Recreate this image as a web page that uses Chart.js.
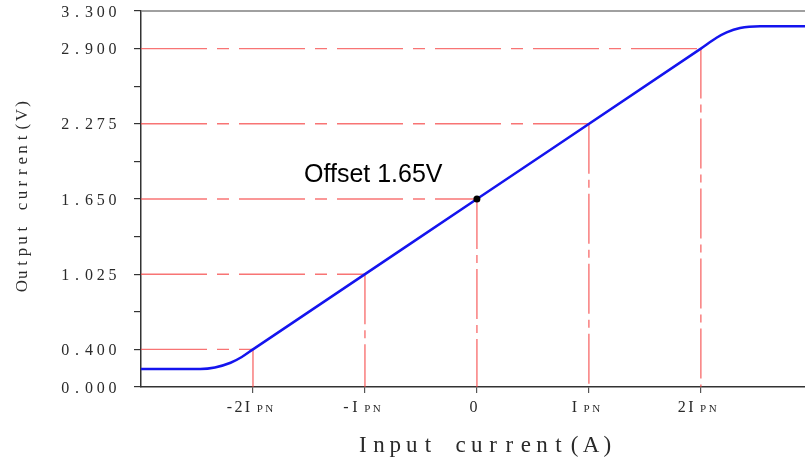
<!DOCTYPE html>
<html><head><meta charset="utf-8">
<script src="https://cdn.jsdelivr.net/npm/chart.js@4/dist/chart.umd.min.js"></script>
<style>html,body{margin:0;padding:0;background:#fff;overflow:hidden}#wrap{width:805px;height:457px;position:relative}</style>
</head><body><div id="wrap"><canvas id="c"></canvas></div>
<script>
// ---- data ----
const curveX = [-3, -2.47, -2.34, -2.2, -2.1, -2, 0, 2, 2.14, 2.23, 2.35, 2.53, 2.93];
const curveY = [0.2375, 0.2375, 0.25, 0.289, 0.337, 0.4, 1.65, 2.9, 2.99, 3.035, 3.071, 3.085, 3.085];
const guideX = [-2, -1, 0, 1, 2];
const guideY = [0.4, 1.025, 1.65, 2.275, 2.9];
const xTickValues = [-2, -1, 0, 1, 2];
const xTickMain = ['-2I', '-I', '0', 'I', '2I'];
const xTickSub = ['PN', 'PN', '', 'PN', 'PN'];
const yTickValues = [0.0875, 0.4, 0.7125, 1.025, 1.3375, 1.65, 1.9625, 2.275, 2.5875, 2.9, 3.2125];
const yTickLabels = ['0.000', '0.400', '', '1.025', '', '1.650', '', '2.275', '', '2.900', '3.300'];
const offsetPoint = [{x: 0, y: 1.65}];
const xMin = -3, xMax = 2.93, yMin = 0.0875, yMax = 3.2125;
const xTitle = 'Input current(A)';
const yTitle = 'Output current(V)';
const noteText = 'Offset 1.65V';

const GUIDE = 'rgba(245,70,70,0.75)';
const datasets = [];
datasets.push({data: offsetPoint, showLine: false, pointRadius: 3.5, pointBackgroundColor: '#000', pointBorderColor: '#000', pointBorderWidth: 0});
datasets.push({data: curveX.map((x, i) => ({x, y: curveY[i]})), borderColor: '#1414ee', borderWidth: 2.5, pointRadius: 0, cubicInterpolationMode: 'monotone', fill: false});
guideY.forEach((gy, i) => {
  datasets.push({data: [{x: xMin, y: gy}, {x: guideX[i], y: gy}], borderColor: GUIDE, borderWidth: 1.4, borderDash: [66, 10, 12, 10], pointRadius: 0, tension: 0});
  datasets.push({data: [{x: guideX[i], y: gy}, {x: guideX[i], y: yMin}], borderColor: GUIDE, borderWidth: 1.4, borderDash: [50, 6, 8, 6], pointRadius: 0, tension: 0});
});

function cells(ctx, text, firstCenter, baseline, pitch) {
  ctx.textAlign = 'center';
  for (let i = 0; i < text.length; i++) ctx.fillText(text[i], firstCenter + i * pitch, baseline);
}

const textPlugin = {
  id: 'texts',
  afterDraw(chart) {
    const ctx = chart.ctx, ca = chart.chartArea;
    const xs = chart.scales.x, ys = chart.scales.y;
    ctx.save();
    // top frame line
    ctx.strokeStyle = '#808080'; ctx.lineWidth = 1.5;
    ctx.beginPath(); ctx.moveTo(ca.left, ca.top); ctx.lineTo(chart.width, ca.top); ctx.stroke();
    ctx.fillStyle = '#2a2a2a';
    ctx.textBaseline = 'alphabetic';
    // y tick labels
    ctx.font = '16px "Liberation Serif"';
    yTickValues.forEach((v, i) => {
      const t = yTickLabels[i];
      if (!t) return;
      const py = ys.getPixelForValue(v);
      const pitch = 11.8;
      cells(ctx, t, 112.5 - (t.length - 1) * pitch, py + 5.5, pitch);
    });
    // x tick labels
    xTickValues.forEach((v, i) => {
      const m = xTickMain[i], s = xTickSub[i];
      const mp = 9, sp = 9.5, gap = s ? 3 : 0;
      const W = m.length * mp + gap + s.length * sp;
      const px = xs.getPixelForValue(v) - 3.5;
      const st = px - W / 2;
      ctx.font = '16px "Liberation Serif"';
      cells(ctx, m, st + mp / 2, 412, mp);
      ctx.font = '11px "Liberation Serif"';
      cells(ctx, s, st + m.length * mp + gap + sp / 2, 412, sp);
    });
    // x title
    ctx.font = '23px "Liberation Serif"';
    const xp = 16.3;
    cells(ctx, xTitle, 485 - (xTitle.length - 1) * xp / 2, 452, xp);
    // y title
    ctx.save();
    ctx.translate(27, 195);
    ctx.rotate(-Math.PI / 2);
    ctx.font = '17px "Liberation Serif"';
    const yp = 11.4;
    cells(ctx, yTitle, -(yTitle.length - 1) * yp / 2, 0, yp);
    ctx.restore();
    // offset note
    ctx.fillStyle = '#000';
    ctx.textAlign = 'left';
    ctx.font = '25px "Liberation Sans"';
    ctx.fillText(noteText, 304, 182);
    ctx.restore();
  }
};

new Chart(document.getElementById('c'), {
  type: 'line',
  data: {datasets},
  options: {
    responsive: true, maintainAspectRatio: false, animation: false, events: [],
    layout: {autoPadding: false, padding: {top: 11, left: 0, right: 0, bottom: 0}},
    plugins: {legend: {display: false}, tooltip: {enabled: false}},
    scales: {
      x: {
        type: 'linear', min: xMin, max: xMax,
        afterBuildTicks: s => { s.ticks = xTickValues.map(v => ({value: v})); },
        afterFit: s => { s.height = 70; },
        ticks: {display: false},
        grid: {drawOnChartArea: false, drawTicks: true, tickLength: 6, color: '#555', lineWidth: 1.2},
        border: {display: true, color: '#333', width: 1.5}
      },
      y: {
        type: 'linear', min: yMin, max: yMax,
        afterBuildTicks: s => { s.ticks = yTickValues.map(v => ({value: v})); },
        afterFit: s => { s.width = 141; },
        ticks: {display: false},
        grid: {drawOnChartArea: false, drawTicks: true, tickLength: 7, color: '#333', lineWidth: 1.2},
        border: {display: true, color: '#333', width: 1.5}
      }
    }
  },
  plugins: [textPlugin]
});
</script>
</body></html>
